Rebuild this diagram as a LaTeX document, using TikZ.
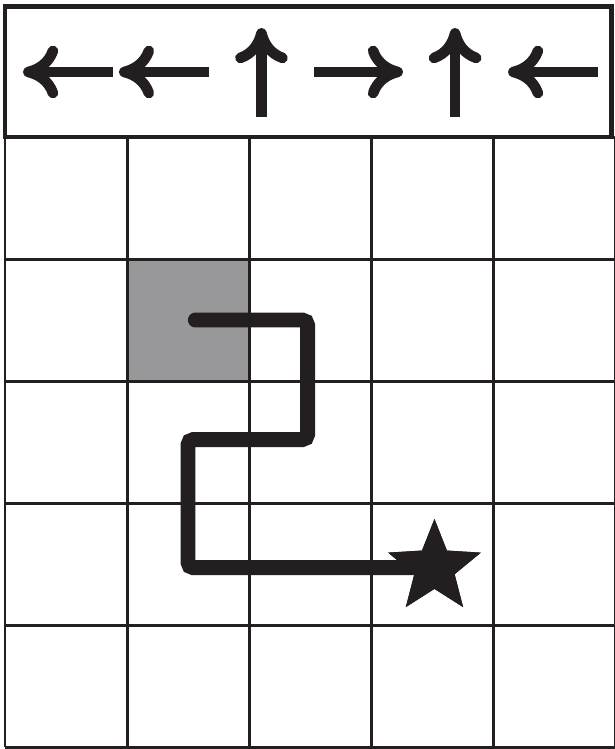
\documentclass[tikz,border=0pt]{standalone}
\usepackage{tikz}
\usetikzlibrary{arrows.meta,shapes.geometric}

\definecolor{ink}{HTML}{231F20}
\definecolor{cellgray}{HTML}{98989A}

\begin{document}
\begin{tikzpicture}[x=2.44cm, y=2.44cm,
    gridline/.style={draw=ink, line width=1.7pt},
    panel/.style={draw=ink, line width=2.8pt},
    sign/.style={draw=ink, line width=6pt, -{Computer Modern Rightarrow[length=20pt, width=30pt]}},
    route/.style={draw=ink, line width=8.5pt, line cap=round, rounded corners=3pt},
    goalstar/.style={star, star points=5, star point ratio=2.3, fill=ink, minimum size=1.95cm, inner sep=0pt}]
      \useasboundingbox (-0.041,-0.016) rectangle (4.992,6.123);

      % Shaded cell
      \fill[cellgray] (1,3) rectangle (2,4);

      % Grid
      \draw[gridline] (0,0) grid[xstep=2.44cm, ystep=2.44cm] (5,5);

      % Instruction panel
      \draw[panel] (0,5) rectangle (4.97,6.066);
      \foreach \tail/\tip in {{(0.885,5.533)}/{(0.148,5.533)},
                              {(1.672,5.533)}/{(0.934,5.533)},
                              {(2.102,5.164)}/{(2.102,5.893)},
                              {(2.533,5.533)}/{(3.262,5.533)},
                              {(3.689,5.164)}/{(3.689,5.893)},
                              {(4.861,5.533)}/{(4.123,5.533)}}
        \draw[sign] \tail -- \tip;

      % Route to the star
      \coordinate (start) at (1.56,3.5);
      \node[goalstar] (goal) at (3.52,1.47) {};
      \draw[route] (start) -- (2.48,3.5) -- (2.48,2.52) -- (1.5,2.52) -- (1.5,1.47) -- (goal.center);
      \node[goalstar] at (goal.center) {};
\end{tikzpicture}
\end{document}
